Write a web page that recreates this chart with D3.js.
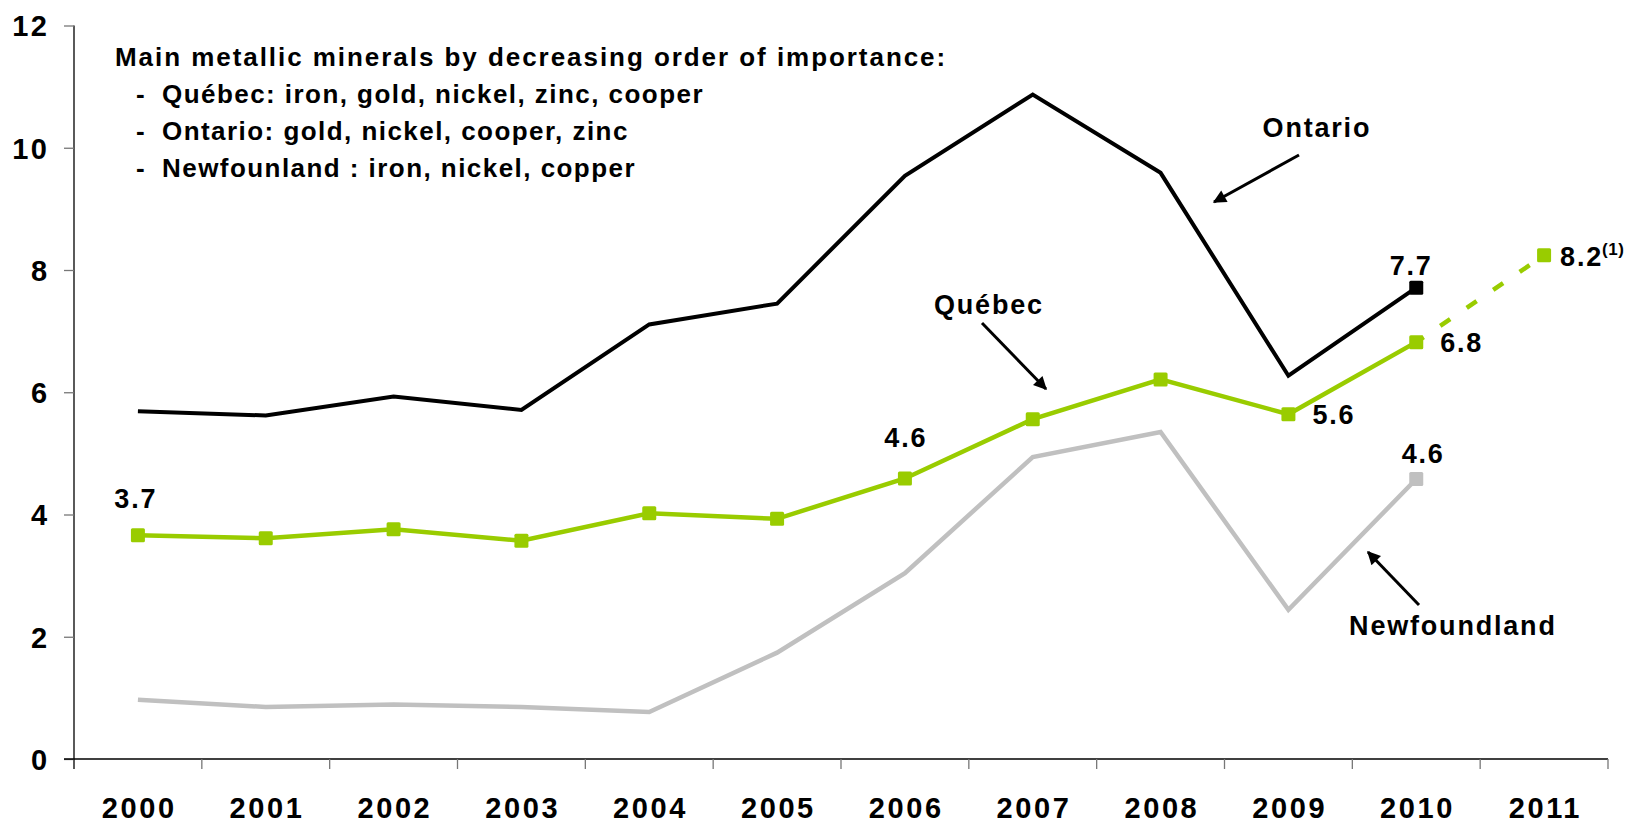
<!DOCTYPE html>
<html>
<head>
<meta charset="utf-8">
<script src="https://cdn.jsdelivr.net/npm/d3@7/dist/d3.min.js"></script>
<style>
  html, body { margin: 0; padding: 0; background: #ffffff; }
  svg { display: block; }
  text { font-family: "Liberation Sans", Arial, sans-serif; font-weight: bold; fill: #000; }
</style>
</head>
<body>
<svg id="chart" width="1637" height="824"></svg>
<script>
// ---- data ----
const years = ["2000", "2001", "2002", "2003", "2004", "2005", "2006", "2007", "2008", "2009", "2010", "2011"];
const yTicks = [0, 2, 4, 6, 8, 10, 12];

// Value of mineral production (billions of $), 2000-2010
const ontario      = [5.69, 5.62, 5.93, 5.71, 7.11, 7.45, 9.54, 10.87, 9.59, 6.27, 7.71];
const quebec       = [3.66, 3.61, 3.76, 3.57, 4.02, 3.93, 4.59, 5.56, 6.21, 5.64, 6.82];
const newfoundland = [0.97, 0.85, 0.89, 0.85, 0.77, 1.74, 3.04, 4.94, 5.35, 2.44, 4.58];
// Québec 2011 forecast
const quebecForecast = 8.24;

const legendTitle = "Main metallic minerals by decreasing order of importance:";
const legendItems = [
  "Québec: iron, gold, nickel, zinc, cooper",
  "Ontario: gold, nickel, cooper, zinc",
  "Newfounland : iron, nickel, copper"
];

// ---- layout ----
const svg = d3.select("#chart");
const x = d3.scaleBand().domain(years).range([74, 1608]).paddingInner(0).paddingOuter(0);
const y = d3.scaleLinear().domain([0, 12]).range([759, 25.5]);
const cx = yr => x(yr) + x.bandwidth() / 2;

const GREEN = "#99cc00", GREY = "#c0c0c0", BLACK = "#000000";
const LABEL_FONT = 27, LABEL_LS = 1.8;   // value labels and series names
const AXIS_FONT = 29, AXIS_LS = 2.6;     // tick labels

// ---- axes ----
const yAxis = svg.append("g")
  .attr("transform", "translate(74,0)")
  .call(d3.axisLeft(y).tickValues(yTicks).tickSize(10).tickPadding(17).tickFormat(d3.format("d")));
yAxis.select(".domain").attr("stroke", "#000").attr("stroke-width", 1.3)
  .attr("d", `M0,${y(12)}V${y(0) + 10}`);
yAxis.selectAll(".tick line").attr("stroke", "#777").attr("stroke-width", 1.3);
yAxis.selectAll(".tick text")
  .style("font-size", AXIS_FONT + "px").style("letter-spacing", AXIS_LS + "px")
  .attr("dx", AXIS_LS).attr("dy", "0.36em");

// horizontal axis line at zero
svg.append("line")
  .attr("x1", 64).attr("x2", 1608).attr("y1", y(0)).attr("y2", y(0))
  .attr("stroke", "#000").attr("stroke-width", 1.3);

// category boundary ticks
const boundaries = years.map(d => x(d)).concat([x(years[years.length - 1]) + x.bandwidth()]);
svg.append("g").selectAll("line").data(boundaries.slice(1)).join("line")
  .attr("x1", d => d).attr("x2", d => d)
  .attr("y1", y(0)).attr("y2", y(0) + 10)
  .attr("stroke", "#777").attr("stroke-width", 1.3);

// year labels
const xAxis = svg.append("g")
  .attr("transform", `translate(0,${y(0)})`)
  .call(d3.axisBottom(x).tickSize(0).tickPadding(38));
xAxis.select(".domain").remove();
xAxis.selectAll(".tick text")
  .style("font-size", AXIS_FONT + "px").style("letter-spacing", AXIS_LS + "px")
  .attr("dx", AXIS_LS / 2);

// ---- lines ----
const line = d3.line().x(d => cx(d.yr)).y(d => y(d.v));
const toPts = arr => arr.map((v, i) => ({ yr: years[i], v }));

svg.append("path").datum(toPts(newfoundland)).attr("d", line)
  .attr("fill", "none").attr("stroke", GREY).attr("stroke-width", 4.5).attr("stroke-linejoin", "miter");

svg.append("path").datum(toPts(ontario)).attr("d", line)
  .attr("fill", "none").attr("stroke", BLACK).attr("stroke-width", 4).attr("stroke-linejoin", "miter");

const qPts = toPts(quebec);
const qForecastPts = [qPts[qPts.length - 1], { yr: years[11], v: quebecForecast }];
svg.append("path").datum(qForecastPts).attr("d", line)
  .attr("fill", "none").attr("stroke", GREEN).attr("stroke-width", 4.5)
  .attr("stroke-dasharray", "12 20").attr("stroke-dashoffset", 3);
svg.append("path").datum(qPts).attr("d", line)
  .attr("fill", "none").attr("stroke", GREEN).attr("stroke-width", 4.5).attr("stroke-linejoin", "miter");

// ---- markers ----
const MS = 14;
function squares(data, color) {
  svg.append("g").selectAll("rect").data(data).join("rect")
    .attr("x", d => cx(d.yr) - MS / 2).attr("y", d => y(d.v) - MS / 2)
    .attr("width", MS).attr("height", MS).attr("rx", 1.5)
    .attr("fill", color);
}
squares(qPts.concat([qForecastPts[1]]), GREEN);
squares([toPts(ontario)[10]], BLACK);
squares([toPts(newfoundland)[10]], GREY);

// ---- value labels ----
const fmt = d3.format(".1f");
const valueLabels = [
  { yr: "2000", v: quebec[0],          anchor: "middle", dx: -3,  dy: -27 },
  { yr: "2006", v: quebec[6],          anchor: "middle", dx: 0,   dy: -31 },
  { yr: "2009", v: quebec[9],          anchor: "start",  dx: 24,  dy: 10 },
  { yr: "2010", v: quebec[10],         anchor: "start",  dx: 24,  dy: 10 },
  { yr: "2011", v: quebecForecast,     anchor: "start",  dx: 16,  dy: 11, note: "(1)" },
  { yr: "2010", v: ontario[10],        anchor: "middle", dx: -6,  dy: -13 },
  { yr: "2010", v: newfoundland[10],   anchor: "middle", dx: 6,   dy: -16 }
];
valueLabels.forEach(l => {
  const t = svg.append("text")
    .attr("x", cx(l.yr) + l.dx + (l.anchor === "middle" ? LABEL_LS / 2 : 0))
    .attr("y", y(l.v) + l.dy)
    .attr("text-anchor", l.anchor)
    .style("font-size", LABEL_FONT + "px").style("letter-spacing", LABEL_LS + "px");
  t.append("tspan").text(fmt(l.v));
  if (l.note) {
    t.append("tspan").attr("dy", -11).attr("dx", -1)
      .style("font-size", "17px").style("letter-spacing", "0.5px").text(l.note);
  }
});

// ---- series names with arrows ----
const defs = svg.append("defs");
defs.append("marker").attr("id", "arrow")
  .attr("viewBox", "0 0 10 10").attr("refX", 9).attr("refY", 5)
  .attr("markerWidth", 5.4).attr("markerHeight", 4.4).attr("markerUnits", "strokeWidth")
  .attr("orient", "auto")
  .append("path").attr("d", "M0,0L10,5L0,10Z").attr("fill", "#000");

const callouts = [
  { name: "Ontario",      tx: 1316, ty: 137, a: [1299, 155, 1214, 202] },
  { name: "Québec",       tx: 988,  ty: 314, a: [982, 323, 1046, 389] },
  { name: "Newfoundland", tx: 1452, ty: 635, a: [1419, 605, 1368, 552] }
];
callouts.forEach(c => {
  svg.append("text").attr("x", c.tx + LABEL_LS / 2).attr("y", c.ty)
    .attr("text-anchor", "middle")
    .style("font-size", LABEL_FONT + "px").style("letter-spacing", LABEL_LS + "px")
    .text(c.name);
  svg.append("line")
    .attr("x1", c.a[0]).attr("y1", c.a[1]).attr("x2", c.a[2]).attr("y2", c.a[3])
    .attr("stroke", "#000").attr("stroke-width", 3).attr("marker-end", "url(#arrow)");
});

// ---- mineral note ----
const NOTE_FONT = 26;
const note = svg.append("g");
note.append("text").attr("x", 115).attr("y", 66)
  .style("font-size", NOTE_FONT + "px").style("letter-spacing", "1.95px")
  .text(legendTitle);
legendItems.forEach((s, i) => {
  const by = 102.5 + i * 37;
  note.append("text").attr("x", 136).attr("y", by)
    .style("font-size", NOTE_FONT + "px").text("-");
  note.append("text").attr("x", 162).attr("y", by)
    .style("font-size", NOTE_FONT + "px").style("letter-spacing", "1.45px")
    .text(s);
});
</script>
</body>
</html>
